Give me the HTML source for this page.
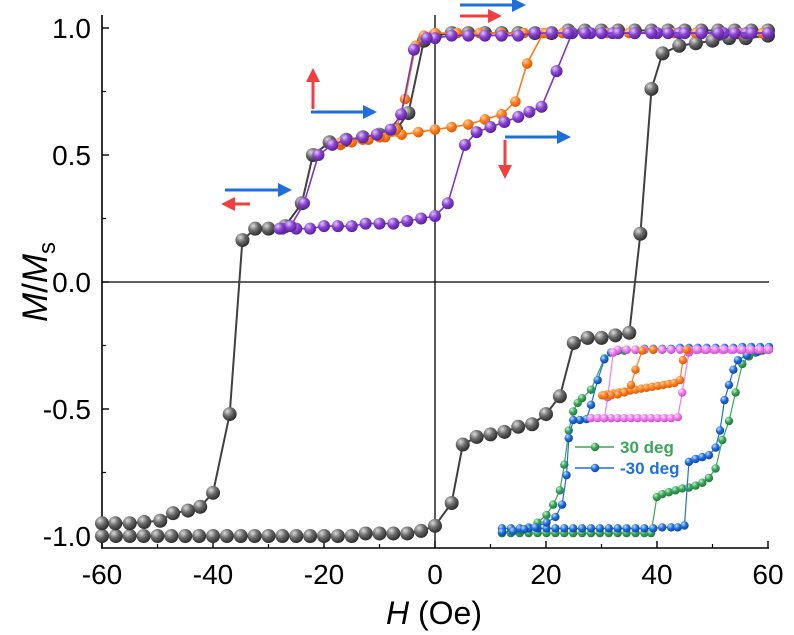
<!DOCTYPE html>
<html><head><meta charset="utf-8"><style>
html,body{margin:0;padding:0;background:#fff;}
svg{display:block;font-family:"Liberation Sans",Arial,sans-serif;}
</style></head><body>
<svg id="chart" width="794" height="635" viewBox="0 0 794 635" xmlns="http://www.w3.org/2000/svg">
<defs>
<radialGradient id="g-black" cx="35%" cy="30%" r="70%"><stop offset="0" stop-color="#dcdcdc"/><stop offset="0.5" stop-color="#6a6a6a"/><stop offset="1" stop-color="#2e2e2e"/></radialGradient>
<radialGradient id="g-orange" cx="35%" cy="30%" r="70%"><stop offset="0" stop-color="#ffd2a8"/><stop offset="0.5" stop-color="#ff7f1e"/><stop offset="1" stop-color="#d95a00"/></radialGradient>
<radialGradient id="g-purple" cx="35%" cy="30%" r="70%"><stop offset="0" stop-color="#e2c8ff"/><stop offset="0.5" stop-color="#8a45d0"/><stop offset="1" stop-color="#5a1fa0"/></radialGradient>
<radialGradient id="g-green" cx="35%" cy="30%" r="70%"><stop offset="0" stop-color="#c8f0d2"/><stop offset="0.5" stop-color="#3aa65a"/><stop offset="1" stop-color="#1f7a3a"/></radialGradient>
<radialGradient id="g-blue" cx="35%" cy="30%" r="70%"><stop offset="0" stop-color="#c6dcff"/><stop offset="0.5" stop-color="#1f6fdc"/><stop offset="1" stop-color="#0d47a8"/></radialGradient>
<radialGradient id="g-pink" cx="35%" cy="30%" r="70%"><stop offset="0" stop-color="#ffe6ff"/><stop offset="0.5" stop-color="#f07cf0"/><stop offset="1" stop-color="#c850c8"/></radialGradient>
</defs>
<g id="axes"></g>
<g id="series"></g>
<g id="inset"></g>
<g id="arrows"></g>
<text transform="translate(47,282) rotate(-90)" text-anchor="middle" font-size="35"><tspan font-style="italic">M</tspan>/<tspan font-style="italic">M</tspan><tspan font-size="24" dy="8">s</tspan></text>
<text x="434" y="624" text-anchor="middle" font-size="32"><tspan font-style="italic">H</tspan> (Oe)</text>
</svg>
<script>
// ---- axis ticks ----
const xTicks = [-60,-40,-20,0,20,40,60];
const xTickLabels = ["-60","-40","-20","0","20","40","60"];
const yTicks = [-1.0,-0.5,0.0,0.5,1.0];
const yTickLabels = ["-1.0","-0.5","0.0","0.5","1.0"];
// ---- main series (H in Oe, M/Ms) ----
const blackDescH = [60,57,54,51,48,45,42,39,36,33,30,27,24,21,18,15,12,9,6,3,0,-2,-4.8,-7,-10,-13,-16,-19,-22,-24,-27,-30,-32.4,-34.7,-37,-40,-42.3,-44.5,-47.2,-49.5,-52.4,-55,-57.6,-60];
const blackDescM = [0.99,0.99,0.99,0.99,0.99,0.99,0.99,0.99,0.99,0.99,0.99,0.99,0.99,0.98,0.98,0.98,0.98,0.98,0.98,0.98,0.97,0.95,0.665,0.6,0.58,0.57,0.56,0.55,0.5,0.31,0.22,0.21,0.21,0.165,-0.52,-0.83,-0.885,-0.9,-0.91,-0.94,-0.945,-0.95,-0.95,-0.95];
const blackAscH = [-60,-57.5,-55,-52.5,-50,-47.5,-45,-42.5,-40,-37.5,-35,-32.5,-30,-27.5,-25,-22.5,-20,-17.5,-15,-12.5,-10,-7.5,-5,-2.5,0,3,5,7.5,10,12.5,15,17.5,20,22.5,25,27.5,30,32.5,35,37,39,41,44,47,50,53,56,60];
const blackAscM = [-1,-1,-1,-1,-1,-1,-1,-1,-1,-1,-1,-1,-1,-1,-1,-1,-1,-1,-1,-0.99,-0.99,-0.99,-0.99,-0.98,-0.96,-0.87,-0.64,-0.61,-0.6,-0.59,-0.57,-0.56,-0.52,-0.45,-0.24,-0.22,-0.22,-0.21,-0.2,0.19,0.76,0.9,0.93,0.94,0.95,0.96,0.96,0.97];
const orangeAscH = [-17,-15,-12,-9,-6,-3,0,3,6,9,12,14.5,16.6,19.5,23,27,31,35,39,43,47,51,55,59];
const orangeAscM = [0.54,0.55,0.56,0.57,0.58,0.59,0.6,0.61,0.62,0.64,0.66,0.71,0.86,0.98,0.98,0.98,0.98,0.98,0.98,0.98,0.98,0.98,0.98,0.98];
const orangeDescH = [60,56,52,48,44,40,36,32,28,24,20,16,12,8,4,0,-2,-3.5,-5.4,-7,-10,-13,-17];
const orangeDescM = [0.98,0.98,0.98,0.98,0.98,0.98,0.98,0.98,0.98,0.98,0.98,0.98,0.98,0.98,0.98,0.98,0.97,0.93,0.72,0.6,0.57,0.56,0.55];
const purpleDescH = [60,57,54,51,48,45,42,39,36,33,30,27,24,21,18,15,12,9,6,3,0,-1.5,-3.8,-6.1,-8,-10.5,-13,-16,-18.5,-21,-23.6,-26,-28];
const purpleDescM = [0.98,0.98,0.98,0.98,0.98,0.98,0.98,0.98,0.98,0.98,0.98,0.98,0.98,0.98,0.98,0.97,0.97,0.97,0.97,0.97,0.96,0.96,0.915,0.66,0.6,0.58,0.57,0.56,0.54,0.5,0.31,0.22,0.21];
const purpleAscH = [-27.5,-25,-22.5,-20,-17.5,-15,-12.5,-10,-7.5,-5,-2.5,0,2.3,5.4,7.5,10,12.5,15,17,19.2,21.9,24.7,28,32,36,40,44,48,52,56,60];
const purpleAscM = [0.21,0.21,0.21,0.22,0.22,0.22,0.23,0.23,0.23,0.24,0.25,0.26,0.31,0.54,0.59,0.61,0.63,0.65,0.67,0.69,0.83,0.98,0.98,0.98,0.98,0.98,0.98,0.98,0.98,0.98,0.98];
// ---- inset series ----
const greenAscH = [-60,-56,-52,-48,-44,-40,-36,-32,-28,-24,-20,-16,-12,-8,-4,0,4,7,9.6,12,15,18,21,24,27,30,33,36,39,42,45,48,51,54,57,60];
const greenAscM = [-0.98,-0.98,-0.98,-0.98,-0.98,-0.98,-0.98,-0.98,-0.98,-0.98,-0.98,-0.98,-0.98,-0.98,-0.98,-0.98,-0.98,-0.98,-0.6,-0.57,-0.55,-0.53,-0.51,-0.5,-0.48,-0.45,-0.4,-0.3,0.0,0.2,0.5,0.8,0.88,0.92,0.94,0.96];
const greenDescH = [60,56,52,48,44,40,36,32,28,24,20,16,12,8,4,0,-5,-10,-14,-20,-24,-26,-28,-30,-32,-34,-37,-40,-44,-48,-52,-56,-60];
const greenDescM = [0.97,0.97,0.97,0.97,0.96,0.96,0.96,0.96,0.96,0.96,0.96,0.95,0.95,0.95,0.95,0.95,0.94,0.92,0.86,0.53,0.44,0.39,0.3,0.1,-0.26,-0.53,-0.68,-0.79,-0.87,-0.92,-0.95,-0.97,-0.98];
const blueDescH = [60,56,52,48,44,40,36,32,28,24,20,16,12,8,4,0,-4,-8,-11,-14,-17,-20,-22,-25,-28,-30,-31,-33,-36,-40,-45,-50,-55,-60];
const blueDescM = [0.98,0.98,0.98,0.98,0.97,0.97,0.97,0.97,0.97,0.97,0.97,0.96,0.96,0.96,0.96,0.95,0.95,0.94,0.92,0.85,0.63,0.37,0.22,0.21,0.21,0.02,-0.37,-0.68,-0.81,-0.87,-0.92,-0.94,-0.96,-0.97];
const blueAscH = [-60,-56,-52,-48,-44,-40,-36,-32,-28,-24,-20,-16,-12,-8,-4,0,4,8,12,16,19,22,24,27,30,33,36,38,40,42,44,46,50,55,60];
const blueAscM = [-0.93,-0.93,-0.93,-0.93,-0.93,-0.93,-0.93,-0.93,-0.93,-0.93,-0.93,-0.93,-0.93,-0.93,-0.93,-0.93,-0.93,-0.93,-0.92,-0.92,-0.92,-0.9,-0.23,-0.2,-0.18,-0.16,-0.08,0.1,0.42,0.58,0.74,0.84,0.89,0.93,0.96];
const pinkAscH = [-20,-17,-14,-11,-8,-5,-2,1,4,7,10,13,16,19,21,24,27,31,35,39,43,47,51,55,59];
const pinkAscM = [0.23,0.23,0.23,0.23,0.23,0.23,0.23,0.23,0.23,0.23,0.23,0.23,0.23,0.24,0.5,0.92,0.95,0.95,0.95,0.95,0.95,0.95,0.95,0.95,0.95];
const pinkDescH = [60,56,52,48,44,40,36,32,28,24,20,16,12,8,4,0,-4,-8,-10,-12.5,-14];
const pinkDescM = [0.95,0.95,0.95,0.95,0.95,0.95,0.95,0.95,0.95,0.95,0.95,0.95,0.95,0.95,0.95,0.95,0.95,0.95,0.92,0.45,0.23];
const orangeInAscH = [-15,-12.5,-10,-7.5,-5,-2.5,0,2.5,5,7.5,10,12.5,15,17.5,20,21.3,23];
const orangeInAscM = [0.47,0.48,0.49,0.5,0.51,0.52,0.53,0.54,0.55,0.56,0.57,0.58,0.59,0.6,0.63,0.84,0.95];
const orangeInDescH = [8,3,0,-2,-5,-8,-11,-14];
const orangeInDescM = [0.95,0.94,0.74,0.58,0.5,0.48,0.47,0.47];

const NS = "http://www.w3.org/2000/svg";
function X(h){ return 435 + h*5.55; }
function Y(m){ return 282 - m*254; }
function IX(h){ return 635.5 + h*2.225; }
function IY(m){ return 440 - m*95; }
function mk(tag, attrs, parent){ const e=document.createElementNS(NS,tag); for(const k in attrs) e.setAttribute(k,attrs[k]); parent.appendChild(e); return e; }

const axes = document.getElementById('axes');
let l;
l = mk('line',{x1:102,y1:15,x2:102,y2:548,stroke:'#000','stroke-width':1.6},axes);


l = mk('line',{x1:101,y1:548,x2:769,y2:548,stroke:'#000','stroke-width':1.6},axes);


l = mk('line',{x1:102,y1:Y(0),x2:769,y2:Y(0),stroke:'#000','stroke-width':1.3},axes);


l = mk('line',{x1:X(0),y1:15,x2:X(0),y2:548,stroke:'#000','stroke-width':1.3},axes);


xTicks.forEach((v,i)=>{
  const t = mk('line',{x1:X(v),y1:548,x2:X(v),y2:541,stroke:'#000','stroke-width':1.4},axes);
  
  
  if(i<xTicks.length-1){
    const mt = mk('line',{x1:X(v+10),y1:548,x2:X(v+10),y2:544,stroke:'#000','stroke-width':1.2},axes);
    
    
  }
  const tx = mk('text',{x:X(v),y:584,'text-anchor':'middle','font-size':28},axes);
  tx.textContent = xTickLabels[i];
  
  
});
yTicks.forEach((v,i)=>{
  const t = mk('line',{x1:102,y1:Y(v),x2:109,y2:Y(v),stroke:'#000','stroke-width':1.4},axes);
  
  
  if(i<yTicks.length-1){
    const mt = mk('line',{x1:102,y1:Y(v+0.25),x2:106,y2:Y(v+0.25),stroke:'#000','stroke-width':1.2},axes);
    
    
  }
  const tx = mk('text',{x:91,y:Y(v)+10,'text-anchor':'end','font-size':28},axes);
  tx.textContent = yTickLabels[i];
  
  
});

function drawSeries(parent, H, M, fx, fy, color, grad, r, name, lw){
  const g = mk('g',{},parent);
  
  
  const pts = H.map((h,i)=>fx(h).toFixed(1)+','+fy(M[i]).toFixed(1)).join(' ');
  const pl = mk('polyline',{points:pts,fill:'none',stroke:color,'stroke-width':lw,'stroke-linejoin':'round'},g);
  
  
  H.forEach((h,i)=>{
    const c = mk('circle',{cx:fx(h),cy:fy(M[i]),r:r,fill:'url(#'+grad+')'},g);
    
    
  });
}
const S = document.getElementById('series');
drawSeries(S, blackAscH, blackAscM, X, Y, '#404040','g-black',7,'black-ascending',2);
drawSeries(S, blackDescH, blackDescM, X, Y, '#404040','g-black',7,'black-descending',2);
drawSeries(S, orangeAscH, orangeAscM, X, Y, '#ff7a1a','g-orange',5.3,'orange-ascending',1.6);
drawSeries(S, orangeDescH, orangeDescM, X, Y, '#ff7a1a','g-orange',5.3,'orange-descending',1.6);
drawSeries(S, purpleAscH, purpleAscM, X, Y, '#7b35c4','g-purple',6,'purple-ascending',1.6);
drawSeries(S, purpleDescH, purpleDescM, X, Y, '#7b35c4','g-purple',6,'purple-descending',1.6);

const I = document.getElementById('inset');
drawSeries(I, greenAscH, greenAscM, IX, IY, '#3aa65a','g-green',4.2,'inset-green-ascending',1.2);
drawSeries(I, greenDescH, greenDescM, IX, IY, '#3aa65a','g-green',4.2,'inset-green-descending',1.2);
drawSeries(I, blueAscH, blueAscM, IX, IY, '#1f6fdc','g-blue',4.2,'inset-blue-ascending',1.2);
drawSeries(I, blueDescH, blueDescM, IX, IY, '#1f6fdc','g-blue',4.2,'inset-blue-descending',1.2);
drawSeries(I, pinkAscH, pinkAscM, IX, IY, '#f07cf0','g-pink',4.2,'inset-pink-ascending',1.2);
drawSeries(I, pinkDescH, pinkDescM, IX, IY, '#f07cf0','g-pink',4.2,'inset-pink-descending',1.2);
drawSeries(I, orangeInAscH, orangeInAscM, IX, IY, '#ff7a1a','g-orange',4.2,'inset-orange-ascending',1.2);
drawSeries(I, orangeInDescH, orangeInDescM, IX, IY, '#ff7a1a','g-orange',4.2,'inset-orange-descending',1.2);
function legendEntry(y, color, grad, label, name){
  const g = mk('g',{},I);
  
  
  mk('line',{x1:575,y1:y,x2:614,y2:y,stroke:color,'stroke-width':1.4},g);
  mk('circle',{cx:595,cy:y,r:4.2,fill:'url(#'+grad+')'},g);
  const t = mk('text',{x:620,y:y+6,'font-size':17,'font-weight':'bold',fill:color},g);
  t.textContent = label;
}
legendEntry(447,'#3aa65a','g-green','30 deg','legend-entry-30deg');
legendEntry(468,'#1f6fdc','g-blue','-30 deg','legend-entry-minus30deg');

const A = document.getElementById('arrows');
function arrowH(x1,x2,y,color,name){
  const g = mk('g',{},A);
  
  
  const dir = x2>x1?1:-1;
  mk('line',{x1:x1,y1:y,x2:x2-dir*12,y2:y,stroke:color,'stroke-width':3},g);
  mk('polygon',{points:`${x2},${y} ${x2-dir*14},${y-7} ${x2-dir*14},${y+7}`,fill:color},g);
}
function arrowV(x,y1,y2,color,name){
  const g = mk('g',{},A);
  
  
  const dir = y2>y1?1:-1;
  mk('line',{x1:x,y1:y1,x2:x,y2:y2-dir*12,stroke:color,'stroke-width':3},g);
  mk('polygon',{points:`${x},${y2} ${x-7},${y2-dir*14} ${x+7},${y2-dir*14}`,fill:color},g);
}
const BL='#1e6fdc', RD='#ee4040';
arrowH(225,292,190,BL,'blue-arrow-left-group');
arrowH(250,221,204,RD,'red-arrow-left-group');
arrowV(313,109,68,RD,'red-up-arrow');
arrowH(311,377,112,BL,'blue-arrow-middle');
arrowH(460,526,5,BL,'blue-arrow-top');
arrowH(460,502,16,RD,'red-arrow-top');
arrowV(505,140,179,RD,'red-down-arrow');
arrowH(505,571,137,BL,'blue-arrow-right');
</script>
</body></html>
